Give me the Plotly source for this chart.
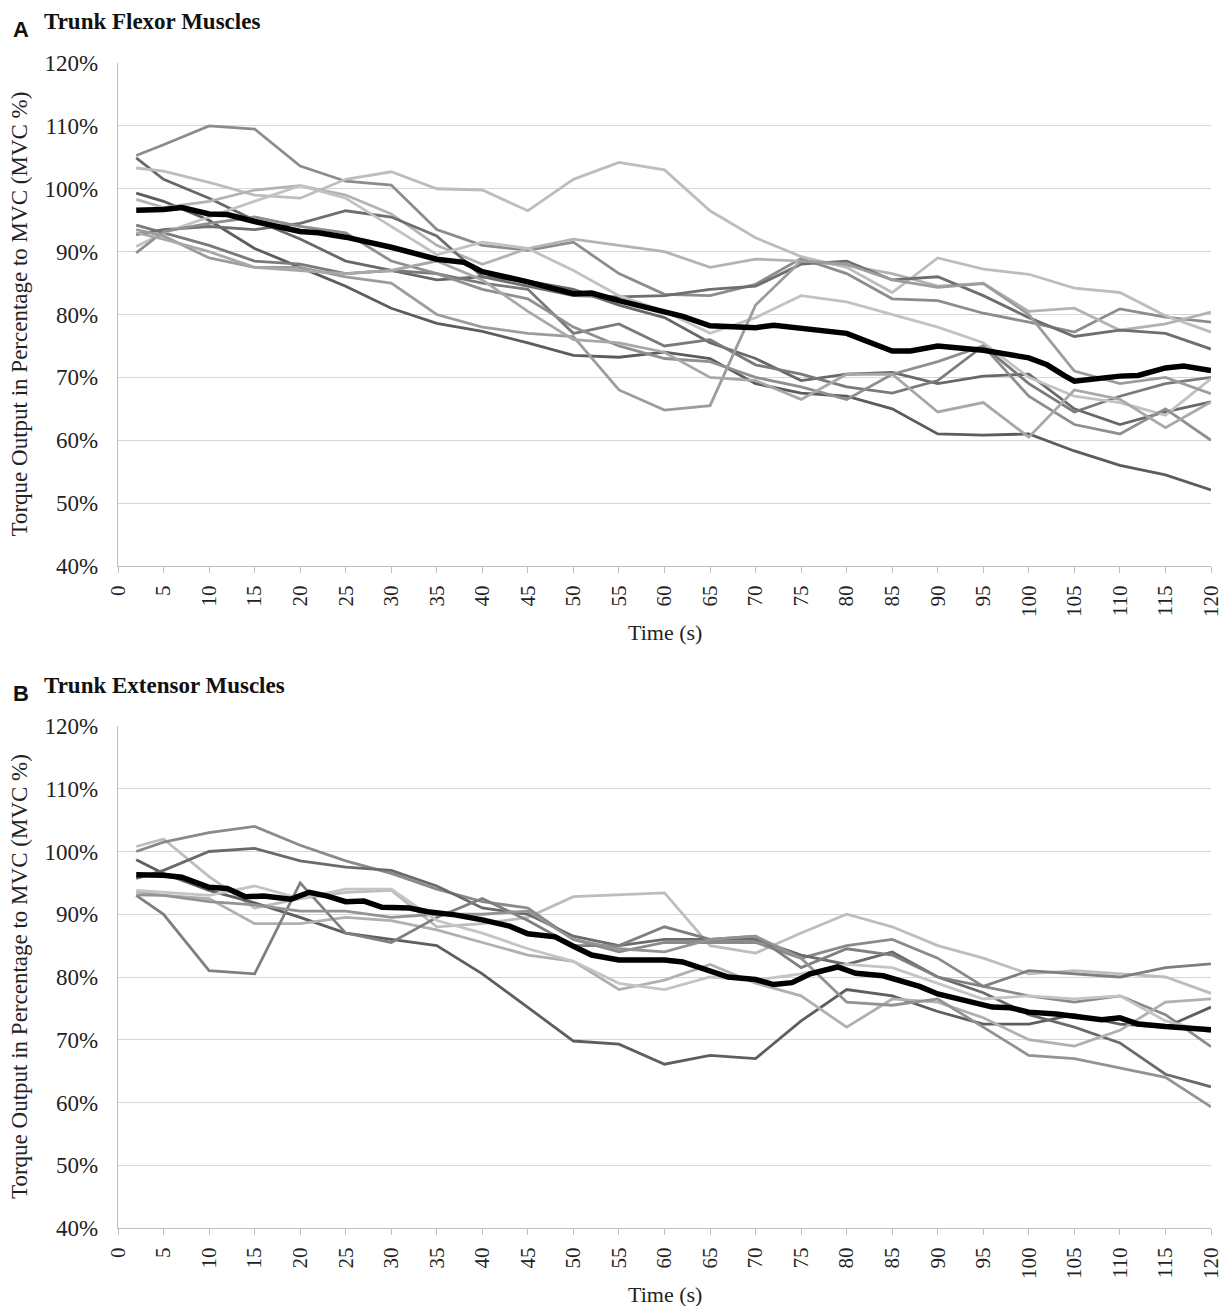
import plotly.graph_objects as go

# ---------------- data ----------------
T5 = [2, 5, 10, 15, 20, 25, 30, 35, 40, 45, 50, 55, 60, 65, 70, 75, 80, 85, 90, 95, 100, 105, 110, 115, 120]

# Panel A – trunk flexor, individual participants
A1 = [105.3, 107.0, 110.0, 109.5, 103.6, 101.2, 100.6, 93.5, 91.0, 90.2, 91.5, 86.5, 83.2, 83.0, 84.8, 88.9, 86.5, 82.5, 82.2, 80.2, 78.8, 77.2, 80.9, 79.6, 78.8]
A2 = [104.9, 101.5, 98.5, 95.0, 92.0, 88.5, 87.0, 85.5, 86.0, 85.3, 84.0, 81.5, 79.5, 75.5, 73.0, 69.5, 70.5, 70.8, 69.0, 70.2, 70.5, 65.0, 62.5, 64.5, 66.1]
A3 = [103.3, 102.8, 101.0, 99.0, 98.5, 101.5, 102.7, 100.0, 99.8, 96.5, 101.5, 104.2, 103.0, 96.5, 92.2, 89.2, 87.5, 83.5, 89.0, 87.2, 86.4, 84.2, 83.5, 79.8, 77.2]
A4 = [99.3, 98.0, 95.0, 90.5, 87.5, 84.5, 81.0, 78.6, 77.3, 75.5, 73.5, 73.2, 74.0, 73.0, 69.0, 67.5, 67.0, 65.0, 61.0, 60.8, 61.0, 58.3, 56.0, 54.5, 52.1]
A5 = [98.3, 97.0, 98.0, 99.8, 100.5, 99.0, 96.0, 91.0, 88.0, 90.5, 92.0, 91.0, 90.0, 87.5, 88.8, 88.5, 87.8, 86.5, 84.5, 85.0, 80.5, 81.0, 77.5, 78.5, 80.4]
A6 = [94.2, 93.0, 91.0, 88.5, 88.0, 86.5, 87.0, 86.5, 85.0, 84.0, 77.0, 78.5, 75.0, 76.0, 72.0, 70.5, 68.5, 67.5, 69.5, 75.0, 69.0, 64.5, 67.0, 69.0, 70.0]
A7 = [92.7, 93.5, 94.0, 93.5, 94.5, 96.5, 95.5, 92.5, 86.0, 84.5, 83.0, 82.8, 83.0, 84.0, 84.5, 88.0, 88.5, 85.5, 86.0, 83.0, 79.5, 76.5, 77.5, 77.0, 74.5]
A8 = [90.8, 93.0, 95.5, 98.0, 100.5, 98.5, 94.0, 89.5, 91.5, 90.5, 87.0, 83.0, 80.5, 77.0, 79.5, 83.0, 82.0, 80.0, 78.0, 75.5, 70.0, 67.0, 66.0, 64.0, 69.8]
A9 = [89.8, 93.2, 94.5, 95.5, 94.0, 93.0, 88.5, 86.5, 84.0, 82.5, 78.0, 75.0, 73.0, 72.5, 70.0, 68.5, 66.5, 70.5, 72.5, 75.0, 67.0, 62.5, 61.0, 65.0, 60.0]
A10 = [93.5, 92.5, 89.0, 87.5, 87.5, 86.0, 85.0, 80.0, 78.0, 77.0, 76.5, 68.0, 64.8, 65.5, 81.5, 88.5, 88.0, 85.5, 84.3, 84.9, 80.0, 71.0, 69.0, 70.0, 67.4]
A11 = [93.0, 92.0, 90.0, 87.5, 87.0, 86.5, 87.0, 88.5, 85.5, 80.5, 76.0, 75.5, 74.0, 70.0, 69.5, 66.5, 70.5, 70.5, 64.5, 66.0, 60.5, 68.0, 66.5, 62.0, 66.1]

A_MEAN_T = [2, 5, 7, 10, 12, 15, 20, 22, 25, 30, 35, 38, 40, 45, 50, 52, 55, 60, 62, 65, 70, 72, 75, 80, 85, 87, 90, 95, 100, 102, 104, 105, 110, 112, 115, 117, 120]
A_MEAN = [96.6, 96.7, 97.0, 96.0, 95.9, 94.8, 93.2, 93.0, 92.3, 90.7, 88.8, 88.3, 86.8, 85.2, 83.3, 83.4, 82.2, 80.3, 79.7, 78.2, 77.9, 78.3, 77.8, 77.0, 74.2, 74.2, 75.0, 74.3, 73.1, 72.0, 70.2, 69.4, 70.2, 70.3, 71.5, 71.8, 71.1]

# Panel B – trunk extensor, individual participants
B1 = [100.8, 102.0, 96.0, 91.0, 92.5, 93.5, 93.8, 88.0, 88.5, 89.5, 92.8, 93.1, 93.4, 85.0, 83.8, 87.0, 90.0, 88.0, 85.0, 83.0, 80.5, 81.0, 80.5, 80.0, 77.4]
B2 = [100.0, 101.5, 103.0, 104.0, 101.0, 98.5, 96.5, 94.0, 92.0, 91.0, 86.0, 84.0, 85.5, 85.5, 85.5, 83.0, 85.0, 86.0, 83.0, 78.5, 77.0, 76.0, 77.0, 74.0, 68.9]
B3 = [98.7, 96.5, 93.8, 91.8, 89.5, 87.0, 86.0, 85.0, 80.5, 75.2, 69.8, 69.3, 66.1, 67.5, 67.0, 73.0, 78.0, 77.0, 74.5, 72.5, 72.5, 74.0, 72.5, 72.0, 75.2]
B4 = [95.7, 97.0, 100.0, 100.5, 98.5, 97.5, 97.0, 94.5, 91.0, 90.0, 86.5, 85.0, 86.0, 86.0, 86.0, 83.5, 82.0, 84.0, 80.0, 77.5, 74.0, 72.0, 69.5, 64.5, 62.5]
B5 = [93.6, 93.0, 92.5, 88.5, 88.5, 89.5, 89.0, 87.5, 85.5, 83.5, 82.5, 78.0, 79.5, 82.0, 79.0, 77.0, 72.0, 76.5, 76.0, 73.5, 70.0, 69.0, 71.5, 76.0, 76.5]
B6 = [93.0, 90.0, 81.0, 80.5, 95.0, 87.0, 85.5, 89.5, 92.5, 89.0, 85.0, 85.0, 88.0, 86.0, 86.5, 81.5, 84.5, 83.5, 80.0, 78.5, 81.0, 80.5, 80.0, 81.5, 82.1]
B7 = [93.1, 93.0, 92.0, 91.5, 90.5, 90.5, 89.5, 90.0, 90.0, 90.5, 86.0, 84.5, 84.0, 86.0, 86.5, 83.0, 76.0, 75.5, 76.5, 72.0, 67.5, 67.0, 65.5, 64.0, 59.3]
B8 = [93.8, 93.5, 93.0, 94.5, 92.5, 94.0, 94.0, 89.0, 87.0, 84.5, 82.5, 79.0, 78.0, 80.0, 79.5, 80.5, 82.0, 81.5, 79.0, 76.5, 77.0, 76.5, 77.0, 73.0, 71.2]

B_MEAN_T = [2, 5, 7, 10, 12, 14, 16, 19, 21, 23, 25, 27, 29, 32, 34, 37, 40, 43, 45, 48, 50, 52, 55, 60, 62, 65, 67, 70, 72, 74, 76, 79, 81, 84, 86, 88, 90, 93, 96, 98, 100, 103, 106, 108, 110, 112, 115, 120]
B_MEAN = [96.3, 96.2, 95.9, 94.3, 94.1, 92.8, 92.9, 92.4, 93.5, 92.9, 92.0, 92.1, 91.1, 91.0, 90.4, 89.9, 89.1, 88.1, 86.9, 86.4, 84.9, 83.5, 82.7, 82.7, 82.4, 81.0, 80.0, 79.6, 78.8, 79.1, 80.5, 81.6, 80.6, 80.2, 79.3, 78.5, 77.3, 76.3, 75.2, 75.1, 74.4, 74.1, 73.6, 73.2, 73.5, 72.5, 72.1, 71.6]

X_TICKS = list(range(0, 121, 5))
Y_TICKS = list(range(40, 121, 10))

A_LINES = [A1, A2, A3, A4, A5, A6, A7, A8, A9, A10, A11]
A_COLORS = ["#8c8c8c", "#686868", "#bdbdbd", "#5c5c5c", "#b3b3b3", "#7a7a7a", "#6e6e6e", "#c2c2c2", "#8f8f8f", "#9c9c9c", "#a8a8a8"]
B_LINES = [B1, B2, B3, B4, B5, B6, B7, B8]
B_COLORS = ["#bdbdbd", "#8a8a8a", "#5e5e5e", "#6a6a6a", "#b0b0b0", "#7f7f7f", "#939393", "#c4c4c4"]

# ---------------- figure ----------------
OFF = 8                                   # page body margin in the browser
W, H = 1227 - OFF, 1306 - OFF
L, R, T, B = 118, 1211, 63, 1228          # plot-area box, in page pixels
PW, PH = R - L, B - T

fig = go.Figure()
for ys, c in zip(A_LINES, A_COLORS):
    fig.add_trace(go.Scatter(x=T5, y=ys, mode="lines", line=dict(color=c, width=2.8),
                             xaxis="x", yaxis="y", showlegend=False, hoverinfo="skip"))
fig.add_trace(go.Scatter(x=A_MEAN_T, y=A_MEAN, mode="lines", line=dict(color="#000000", width=5.5),
                         xaxis="x", yaxis="y", showlegend=False))
for ys, c in zip(B_LINES, B_COLORS):
    fig.add_trace(go.Scatter(x=T5, y=ys, mode="lines", line=dict(color=c, width=2.8),
                             xaxis="x2", yaxis="y2", showlegend=False, hoverinfo="skip"))
fig.add_trace(go.Scatter(x=B_MEAN_T, y=B_MEAN, mode="lines", line=dict(color="#000000", width=5.5),
                         xaxis="x2", yaxis="y2", showlegend=False))

serif = "Liberation Serif, Times New Roman, serif"


def px_x(px):
    return (px - L) / PW


def px_y(py):
    return 1 - (py - T) / PH


def ydom(top_px, bot_px):
    return [max(0, px_y(bot_px)), min(1, px_y(top_px))]


xcommon = dict(range=[0, 120], tickvals=X_TICKS, tickangle=-90, showgrid=False, zeroline=False,
               showline=True, linecolor="#bfbfbf", linewidth=1.3, ticks="outside", ticklen=6,
               tickcolor="#bfbfbf", ticklabelstandoff=4, automargin=False,
               tickfont=dict(family=serif, size=21, color="#222"), domain=[0, 1])
ycommon = dict(range=[40, 120], tickvals=Y_TICKS, ticktext=[f"{v}%" for v in Y_TICKS],
               showgrid=True, gridcolor="#d6d6d6", gridwidth=1.3, zeroline=False,
               showline=True, linecolor="#bfbfbf", linewidth=1.3, ticks="", ticklabelstandoff=14,
               automargin=False, tickfont=dict(family=serif, size=23, color="#222"))

fig.update_layout(
    width=W, height=H, paper_bgcolor="white", plot_bgcolor="white",
    margin=dict(l=L - OFF, r=W - (R - OFF), t=T - OFF, b=H - (B - OFF), autoexpand=False),
    xaxis=dict(xcommon, anchor="y"),
    yaxis=dict(ycommon, domain=ydom(63, 566), anchor="x"),
    xaxis2=dict(xcommon, anchor="y2"),
    yaxis2=dict(ycommon, domain=ydom(726, 1228), anchor="x2"),
)

ann = []
for top, letter, title, xt_y, bottom in [(63, "A", "Trunk Flexor Muscles", 632, 566),
                                         (726, "B", "Trunk Extensor Muscles", 1294, 1228)]:
    ann.append(dict(x=px_x(11), y=px_y(top - 33), xref="paper", yref="paper", text="<b>" + letter + "</b>",
                    showarrow=False, xanchor="left", yanchor="middle",
                    font=dict(family="Liberation Sans, Arial, sans-serif", size=22, color="#111")))
    ann.append(dict(x=px_x(42), y=px_y(top - 41), xref="paper", yref="paper", text="<b>" + title + "</b>",
                    showarrow=False, xanchor="left", yanchor="middle",
                    font=dict(family=serif, size=23, color="#111")))
    ann.append(dict(x=px_x((L + R) / 2), y=px_y(xt_y), xref="paper", yref="paper", text="Time (s)",
                    showarrow=False, xanchor="center", yanchor="middle",
                    font=dict(family=serif, size=22, color="#222")))
    ann.append(dict(x=px_x(19), y=px_y((top + bottom) / 2), xref="paper", yref="paper",
                    text="Torque Output in Percentage to MVC (MVC %)", textangle=-90,
                    showarrow=False, xanchor="center", yanchor="middle",
                    font=dict(family=serif, size=23, color="#222")))
fig.update_layout(annotations=ann)

fig.write_html("out.html")
